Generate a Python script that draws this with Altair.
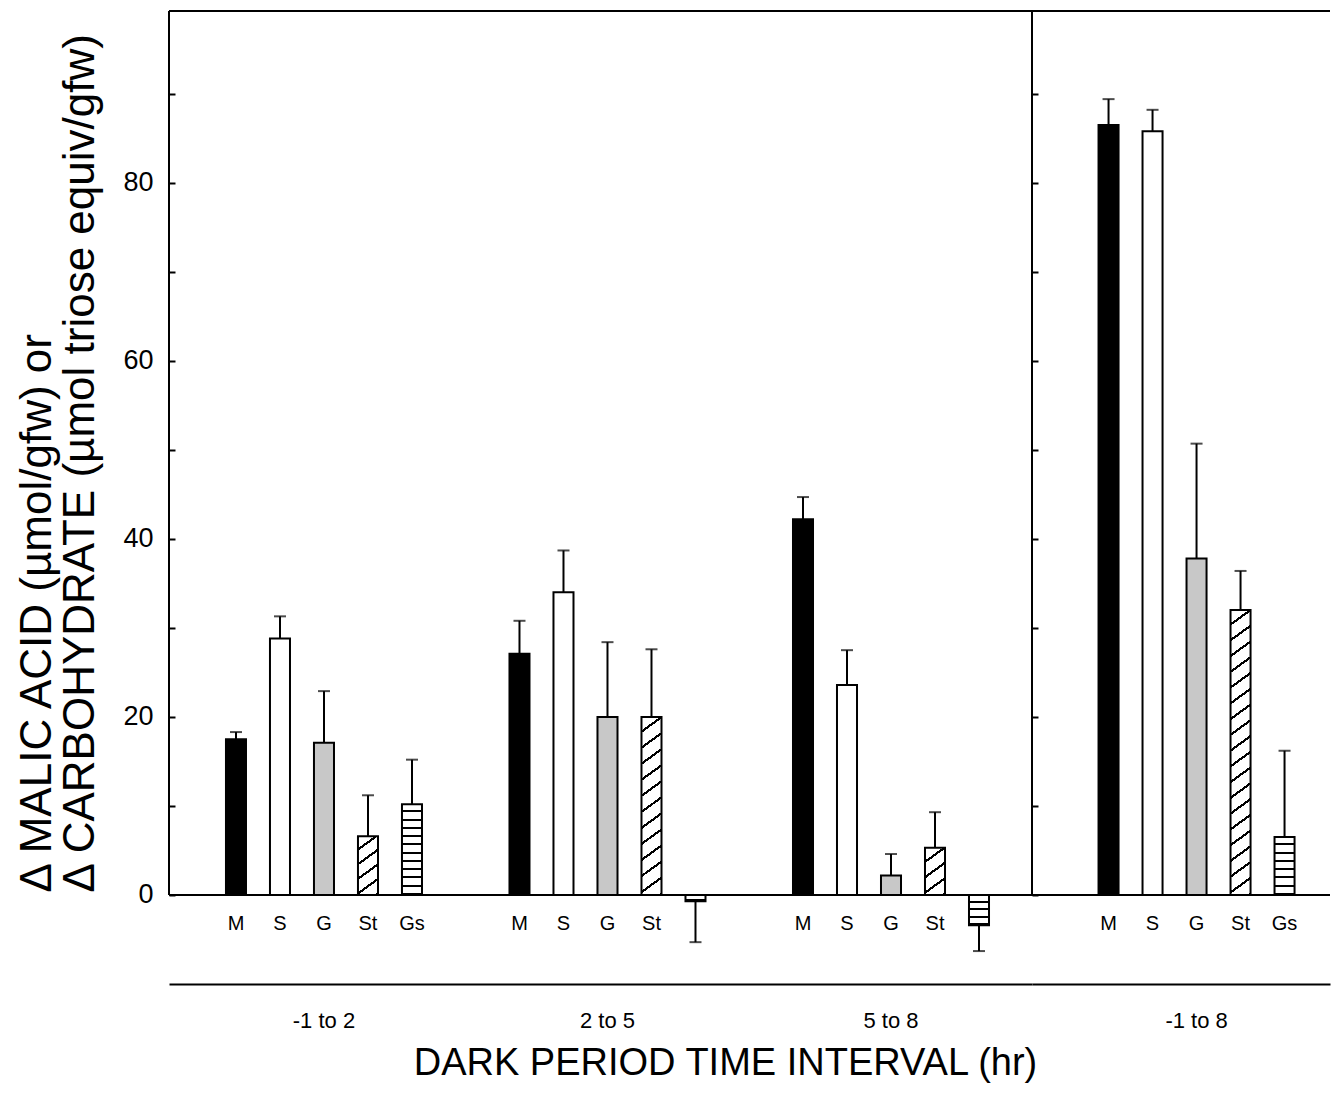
import math
import altair as alt
import pandas as pd

# ---------------- data ----------------
GROUPS = ["-1 to 2", "2 to 5", "5 to 8", "-1 to 8"]
CATS = ["M", "S", "G", "St", "Gs"]

VAL_1 = [17.5, 28.8, 17.1, 6.6, 10.2]
ERR_1 = [0.8, 2.5, 5.8, 4.6, 5.0]
VAL_2 = [27.1, 34.0, 20.0, 20.0, -0.7]
ERR_2 = [3.7, 4.7, 8.4, 7.6, 4.6]
VAL_3 = [42.2, 23.6, 2.2, 5.3, -3.4]
ERR_3 = [2.5, 3.9, 2.4, 4.0, 2.9]
VAL_4 = [86.5, 85.8, 37.8, 32.0, 6.5]
ERR_4 = [2.9, 2.4, 12.9, 4.4, 9.7]

Y_LABELS = [0, 20, 40, 60, 80]
Y_TICKS = [0, 10, 20, 30, 40, 50, 60, 70, 80, 90]

YLINE1 = "\u0394 MALIC ACID (\u00b5mol/gfw)   or"
YLINE2 = "\u0394 CARBOHYDRATE (\u00b5mol triose equiv/gfw)"
XTITLE = "DARK PERIOD TIME INTERVAL (hr)"

# ---------------- layout constants ----------------
YMIN, YMAX = -10, 99.3
LEFT_W, RIGHT_W, PLOT_H = 863, 298, 973
BAR_W = 20.0
PX = PLOT_H / (YMAX - YMIN)
FONT = "Liberation Sans"

rows = []
for gi, (g, vals, errs) in enumerate(zip(GROUPS, [VAL_1, VAL_2, VAL_3, VAL_4],
                                         [ERR_1, ERR_2, ERR_3, ERR_4])):
    for c, v, e in zip(CATS, vals, errs):
        rows.append({
            "group": g, "cat": c, "value": v,
            "end": v + e if v >= 0 else v - e,
            "key": f"g{gi}_{c}",
            "panel": "left" if gi < 3 else "right",
        })
df = pd.DataFrame(rows)


def stripe_stops(n, line_frac):
    stops = []
    for k in range(n):
        a = k / n
        b = (k + 1 - line_frac) / n
        c = (k + 1) / n
        stops += [{"offset": round(a, 5), "color": "white"},
                  {"offset": round(b, 5), "color": "white"},
                  {"offset": round(b, 5), "color": "black"},
                  {"offset": round(c, 5), "color": "black"}]
    return stops


def horiz_grad(h):
    period = 8.3
    n = max(1, round(h / period))
    frac = min(0.45, 2.0 / (h / n))
    return {"gradient": "linear", "x1": 0, "y1": 0, "x2": 0, "y2": 1,
            "stops": stripe_stops(n, frac)}


def diag_grad(h, w=BAR_W, theta_deg=36.0, vspace=15.7):
    th = math.radians(theta_deg)
    p = math.sin(th) / h
    q = math.cos(th) / w
    cc = (p + q) / (p * p + q * q)
    dist = w * math.sin(th) + h * math.cos(th)
    period = vspace * math.cos(th)
    n = max(1, round(dist / period))
    frac = min(0.45, 2.2 / (dist / n))
    return {"gradient": "linear", "x1": 0, "y1": 0,
            "x2": round(cc * p, 6), "y2": round(cc * q, 6),
            "stops": stripe_stops(n, frac)}


fill_conds = [
    {"test": "datum.cat === 'M'", "value": "black"},
    {"test": "datum.cat === 'G'", "value": "#c8c8c8"},
]
for r in rows:
    h = abs(r["value"]) * PX
    if r["cat"] == "St":
        fill_conds.append({"test": f"datum.key === '{r['key']}'", "value": diag_grad(h)})
    elif r["cat"] == "Gs":
        fill_conds.append({"test": f"datum.key === '{r['key']}'", "value": horiz_grad(h)})
FILL = {"condition": fill_conds, "value": "white"}

YSCALE = alt.Scale(domain=[YMIN, YMAX], nice=False, zero=False)
XOFF = alt.XOffset("cat:N", sort=CATS,
                   scale=alt.Scale(paddingInner=0.545, paddingOuter=0.2725))
X_AXIS = alt.Axis(title=None, ticks=False, domain=True, domainWidth=2,
                  domainColor="black", labelFontSize=22, labelPadding=26,
                  labelAngle=0, labelColor="black", labelFont=FONT, grid=False)
one = pd.DataFrame({"a": [0]})
ZERO_PX = YMAX * PX  # pixel row of the zero line inside the plot


def panel(data, groups, xscale, width, left):
    X = alt.X("group:N", sort=groups, scale=xscale, axis=X_AXIS)
    if left:
        ax_lab = alt.Axis(values=Y_LABELS, ticks=False, tickSize=0, domain=False,
                          grid=False, labelPadding=16, labelFontSize=27,
                          labelFont=FONT, labelColor="black",
                          title=[YLINE1, YLINE2], titleFontSize=44,
                          titleLineHeight=43, titlePadding=20,
                          titleAlign="left", titleAnchor="start",
                          titleY=ZERO_PX - 3,
                          titleFontWeight="normal", titleFont=FONT,
                          titleColor="black", orient="left")
        ax_tick_l = alt.Axis(values=Y_TICKS, labels=False, domain=False, grid=False,
                             tickSize=6, tickWidth=2, tickColor="black",
                             offset=-6, title=None, orient="left")
        ax_tick_r = alt.Axis(values=Y_TICKS, labels=False, domain=False, grid=False,
                             tickSize=6, tickWidth=2, tickColor="black",
                             title=None, orient="right")
    else:
        ax_lab = ax_tick_l = ax_tick_r = None

    base = alt.Chart(data)
    bars = base.mark_bar(stroke="black", strokeWidth=2).encode(
        x=X, xOffset=XOFF,
        y=alt.Y("value:Q", scale=YSCALE, axis=ax_lab),
        y2=alt.datum(0),
        fill=FILL,
    )
    err = base.mark_rule(color="black", strokeWidth=2).encode(
        x=X, xOffset=XOFF,
        y=alt.Y("end:Q", scale=YSCALE, axis=ax_tick_l),
        y2=alt.Y2("value:Q"),
    )
    caps = base.mark_tick(color="black", size=12, thickness=2).encode(
        x=X, xOffset=XOFF,
        y=alt.Y("end:Q", scale=YSCALE, axis=ax_tick_r),
    )
    labels = base.transform_filter("datum.value > 0").mark_text(
        fontSize=20, font=FONT, color="black", baseline="middle", dy=29
    ).encode(
        x=X, xOffset=XOFF,
        y=alt.YDatum(0, scale=YSCALE, axis=None),
        text="cat:N",
    )
    top = alt.Chart(one).mark_rule(color="black", strokeWidth=2).encode(
        y=alt.YDatum(YMAX, scale=YSCALE, axis=None))
    zero = alt.Chart(one).mark_rule(color="black", strokeWidth=2).encode(
        y=alt.YDatum(0, scale=YSCALE, axis=None))
    layers = [bars, err, caps, labels, top, zero]
    if left:
        lframe = alt.Chart(one).mark_rule(color="black", strokeWidth=2).encode(
            x=alt.value(0), y=alt.YDatum(0, scale=YSCALE, axis=None),
            y2=alt.Y2Datum(YMAX))
        divider = alt.Chart(one).mark_rule(color="black", strokeWidth=2).encode(
            x=alt.value(width), y=alt.YDatum(0, scale=YSCALE, axis=None),
            y2=alt.Y2Datum(YMAX))
        layers += [lframe, divider]
    return alt.layer(*layers).resolve_axis(y="independent").properties(
        width=width, height=PLOT_H)


left = panel(df[df.panel == "left"], GROUPS[:3],
             alt.Scale(paddingInner=0.224, paddingOuter=0.134, align=0.592),
             LEFT_W, True)
right = panel(df[df.panel == "right"], GROUPS[3:],
              alt.Scale(paddingInner=0.0, paddingOuter=0.177, align=0.70),
              RIGHT_W, False)

chart = (
    alt.hconcat(left, right, spacing=0, bounds="flush")
    .properties(
        title=alt.TitleParams(XTITLE, orient="bottom", anchor="middle", fontSize=38,
                              fontWeight="normal", font=FONT, color="black",
                              offset=14, dx=52),
        padding={"left": 7, "top": 2, "right": 0, "bottom": 0},
    )
    .configure(font=FONT)
    .configure_view(stroke=None, strokeWidth=0)
    .configure_axis(grid=False)
    .configure_axisY(domain=False)
)

chart.save("out.html", embed_options={"renderer": "svg", "actions": False})
